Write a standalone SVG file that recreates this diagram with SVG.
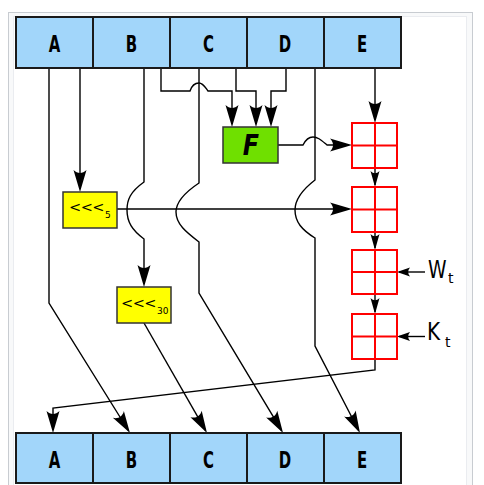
<svg xmlns="http://www.w3.org/2000/svg" width="484" height="485" viewBox="0 0 484 485">
<style>
.reg{fill:#a2d6fa;stroke:#1a1a1a;stroke-width:2}
.lbl{font-family:"DejaVu Sans",sans-serif;font-weight:bold;font-size:23px;text-anchor:middle;fill:#000}
.ln{fill:none;stroke:#000;stroke-width:1.4}
.add{fill:none;stroke:#f00;stroke-width:2}
.rot{fill:#ff0;stroke:#333;stroke-width:1.5}
.rt{font-family:"DejaVu Sans",sans-serif;font-size:14.5px;letter-spacing:-0.5px;fill:#000}
.sub{font-family:"DejaVu Sans",sans-serif;font-size:9px;fill:#000}
.in{font-family:"DejaVu Sans",sans-serif;font-size:25px;fill:#000}
.ins{font-family:"DejaVu Sans",sans-serif;font-size:14px;fill:#000}
</style>
<defs>
<marker id="big" markerUnits="userSpaceOnUse" orient="auto" markerWidth="30" markerHeight="20" viewBox="-25 -10 30 20" refX="0" refY="0">
<path d="M3,0 L-19,-6.5 C-15,-2.5 -15,2.5 -19,6.5 Z" fill="#000"/>
</marker>
<marker id="mid" markerUnits="userSpaceOnUse" orient="auto" markerWidth="24" markerHeight="14" viewBox="-20 -7 24 14" refX="0" refY="0">
<path d="M2,0 L-14,-4.5 C-11,-1.5 -11,1.5 -14,4.5 Z" fill="#000"/>
</marker>
<marker id="sm" markerUnits="userSpaceOnUse" orient="auto" markerWidth="20" markerHeight="12" viewBox="-16 -6 20 12" refX="0" refY="0">
<path d="M2,0 L-11,-4.5 C-8.5,-1.5 -8.5,1.5 -11,4.5 Z" fill="#000"/>
</marker>
</defs>
<rect x="8.5" y="12.5" width="464" height="480" fill="#f8f9fa" stroke="#c8ccd1"/>
<rect x="13.5" y="16.5" width="453" height="475" fill="#fff" stroke="#eaecf0"/>

<g id="connectors">
<path class="ln" d="M49,68 V303 L128.4,430.5" marker-end="url(#big)"/>
<path class="ln" d="M80,68 V189" marker-end="url(#big)"/>
<path class="ln" d="M144,68 V182 C130,192 127,200 127,210 C127,222 132,230 144,239 V284" marker-end="url(#big)"/>
<path class="ln" d="M161,68 V91 H190 C192,85 196,83 199,83 C203,83 205,87 208,91 H232 V124" marker-end="url(#big)"/>
<path class="ln" d="M199,68 V183 C184,193 176,202 176,212 C176,224 186,232 199,242 V293 L281.5,430.4" marker-end="url(#big)"/>
<path class="ln" d="M236,68 V91 H256 V124" marker-end="url(#big)"/>
<path class="ln" d="M286,68 V91 H271 V124" marker-end="url(#big)"/>
<path class="ln" d="M315,68 V180 C302,190 295,200 295,210 C295,222 302,230 315,238 V346 L358.6,430.3" marker-end="url(#big)"/>
<path class="ln" d="M375,68 V120" marker-end="url(#big)"/>
<path class="ln" d="M278,145 H303 C306,139 309,137 313,137 C318,137 321,140 327,145 H349" marker-end="url(#big)"/>
<path class="ln" d="M117,209 H349" marker-end="url(#big)"/>
<path class="ln" d="M144,323 L205.5,430.4" marker-end="url(#big)"/>
<path class="ln" d="M375,168 V185" marker-end="url(#mid)"/>
<path class="ln" d="M375,232 V248" marker-end="url(#mid)"/>
<path class="ln" d="M375,294 V312" marker-end="url(#mid)"/>
<path class="ln" d="M425,272 H399" marker-end="url(#sm)"/>
<path class="ln" d="M425,336.5 H399" marker-end="url(#sm)"/>
<path class="ln" d="M375,359 V370 L53,408 V430" marker-end="url(#big)"/>
</g>

<g id="top-A"><rect class="reg" x="16" y="17" width="77" height="51"/><text class="lbl" transform="translate(54.5,52) scale(0.65,1)">A</text></g>
<g id="top-B"><rect class="reg" x="93" y="17" width="77" height="51"/><text class="lbl" transform="translate(131.5,52) scale(0.65,1)">B</text></g>
<g id="top-C"><rect class="reg" x="170" y="17" width="77" height="51"/><text class="lbl" transform="translate(208.5,52) scale(0.65,1)">C</text></g>
<g id="top-D"><rect class="reg" x="247" y="17" width="77" height="51"/><text class="lbl" transform="translate(285,52) scale(0.65,1)">D</text></g>
<g id="top-E"><rect class="reg" x="324" y="17" width="77" height="51"/><text class="lbl" transform="translate(362,52) scale(0.65,1)">E</text></g>

<g id="bot-A"><rect class="reg" x="16" y="433" width="77" height="50"/><text class="lbl" transform="translate(54.5,468) scale(0.65,1)">A</text></g>
<g id="bot-B"><rect class="reg" x="93" y="433" width="77" height="50"/><text class="lbl" transform="translate(131.5,468) scale(0.65,1)">B</text></g>
<g id="bot-C"><rect class="reg" x="170" y="433" width="77" height="50"/><text class="lbl" transform="translate(208.5,468) scale(0.65,1)">C</text></g>
<g id="bot-D"><rect class="reg" x="247" y="433" width="77" height="50"/><text class="lbl" transform="translate(285,468) scale(0.65,1)">D</text></g>
<g id="bot-E"><rect class="reg" x="324" y="433" width="77" height="50"/><text class="lbl" transform="translate(362,468) scale(0.65,1)">E</text></g>

<g id="F"><rect x="223" y="127" width="55" height="36" fill="#6fe000" stroke="#333" stroke-width="1.5"/><text transform="translate(251,155) scale(0.85,1)" font-family="DejaVu Sans, sans-serif" font-weight="bold" font-style="italic" font-size="28" text-anchor="middle">F</text></g>

<g id="rot5"><rect class="rot" x="63" y="192" width="54" height="36"/><text class="rt" x="69" y="212">&lt;&lt;&lt;</text><text class="sub" x="105" y="218">5</text></g>
<g id="rot30"><rect class="rot" x="117" y="287" width="54" height="36"/><text class="rt" x="121" y="308">&lt;&lt;&lt;</text><text class="sub" x="157" y="314">30</text></g>

<g id="add1"><rect class="add" x="352" y="123" width="45" height="45"/><path class="add" d="M375,123 V168 M352,145.5 H397"/></g>
<g id="add2"><rect class="add" x="352" y="187" width="45" height="45"/><path class="add" d="M375,187 V232 M352,209.5 H397"/></g>
<g id="add3"><rect class="add" x="352" y="250" width="45" height="44"/><path class="add" d="M375,250 V294 M352,272 H397"/></g>
<g id="add4"><rect class="add" x="352" y="314" width="45" height="45"/><path class="add" d="M375,314 V359 M352,336.5 H397"/></g>

<g id="Wt"><text class="in" transform="translate(428,278) scale(0.75,1)">W</text><text class="ins" x="448" y="283">t</text></g>
<g id="Kt"><text class="in" transform="translate(427,340) scale(0.8,1)">K</text><text class="ins" x="445" y="347">t</text></g>
</svg>
